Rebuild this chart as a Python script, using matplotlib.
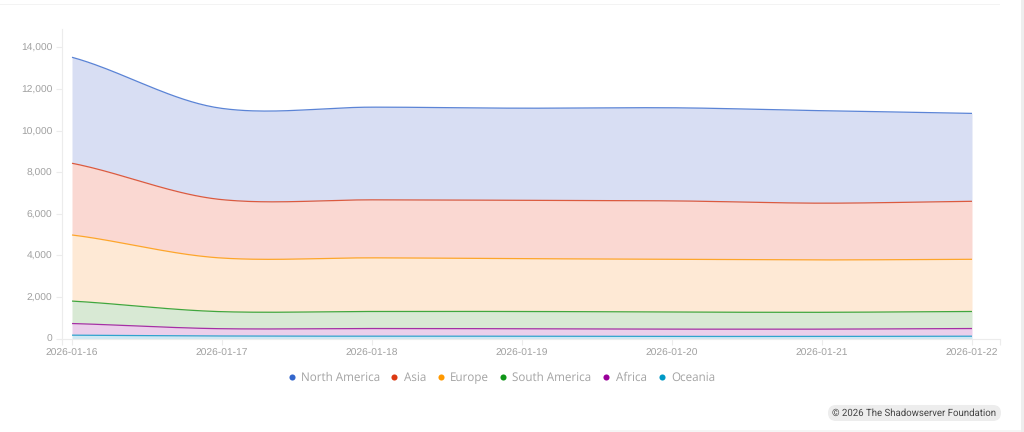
import numpy as np
import matplotlib
matplotlib.use("Agg")
import matplotlib.pyplot as plt
from matplotlib.lines import Line2D
from matplotlib.patches import FancyBboxPatch, Rectangle

plt.rcParams["text.hinting"] = "none"

dates = ["2026-01-16", "2026-01-17", "2026-01-18", "2026-01-19",
         "2026-01-20", "2026-01-21", "2026-01-22"]

# bottom of the stack first
oceania = [160, 120, 110, 110, 100, 100, 110]
africa = [560, 350, 370, 360, 350, 350, 370]
south_america = [1080, 820, 820, 830, 820, 810, 820]
europe = [3180, 2580, 2580, 2540, 2540, 2520, 2510]
asia = [3450, 2810, 2790, 2810, 2810, 2730, 2790]
north_america = [5100, 4390, 4460, 4430, 4480, 4450, 4230]

series_names = ["Oceania", "Africa", "South America", "Europe", "Asia", "North America"]
series_values = [oceania, africa, south_america, europe, asia, north_america]
series_colors = ["#0099c6", "#990099", "#109618", "#ff9900", "#dc3912", "#3366cc"]
series_fills = ["#d0e8f3", "#ebcfeb", "#d8e9d4", "#fee9d5", "#fad8d2", "#d8def3"]

yticks = [0, 2000, 4000, 6000, 8000, 10000, 12000, 14000]

# left edge of each legend entry in pixels, marker then text
legend_marker_px = [662, 606, 503, 441, 394, 292]
legend_text_px = [671, 616, 512, 450, 404, 301]


def smooth(x, y, n=40):
    # rounded look of the lines, tangents damped a bit so they don't overshoot
    x = np.asarray(x, dtype=float)
    y = np.asarray(y, dtype=float)
    m = np.gradient(y, x) * 0.8
    xs, ys = [], []
    for i in range(len(x) - 1):
        t = np.linspace(0, 1, n)
        h = x[i + 1] - x[i]
        a = 2 * t**3 - 3 * t**2 + 1
        b = t**3 - 2 * t**2 + t
        c = -2 * t**3 + 3 * t**2
        d = t**3 - t**2
        xs.append(x[i] + t * h)
        ys.append(a * y[i] + b * h * m[i] + c * y[i + 1] + d * h * m[i + 1])
    return np.concatenate(xs), np.concatenate(ys)


W, H = 1024, 432
fig = plt.figure(figsize=(W / 100, H / 100), dpi=100, facecolor="white")
ax = fig.add_axes([62 / W, (H - 338.5) / H, 938 / W, 309.5 / H])

x = np.arange(len(dates))
bottom = np.zeros(len(dates))
lower_curve = None
for name, vals, col, fill in zip(series_names, series_values, series_colors, series_fills):
    top = bottom + np.array(vals)
    xs, upper = smooth(x, top)
    base = np.zeros_like(upper) if lower_curve is None else lower_curve
    ax.fill_between(xs, base, upper, color=fill, linewidth=0)
    ax.plot(xs, upper, color=col, linewidth=0.9, alpha=0.8, solid_capstyle="butt")
    lower_curve = upper
    bottom = top

xlim = (-10 / 150, 6 + 28 / 150)
ax.set_xlim(xlim)
ax.set_ylim(0, 309.5 * 14000 / 291)

ax.set_xticks(x)
ax.set_xticks(xlim, minor=True)
ax.set_xticklabels(dates, family="Liberation Sans", fontsize=7.4, color="#a0a0a0")
ax.set_yticks(yticks)
ax.set_yticklabels([f"{v:,}" for v in yticks], family="Liberation Sans",
                   fontsize=7.4, color="#a0a0a0", va="center_baseline")
ax.tick_params(axis="both", which="both", length=4, width=0.8, color="#ececec", pad=3)
for side in ["top", "right"]:
    ax.spines[side].set_visible(False)
for side in ["left", "bottom"]:
    ax.spines[side].set_color("#ececec")
    ax.spines[side].set_linewidth(0.8)

# legend placed by hand, entries run tighter than fig.legend allows
for name, col, mx, tx in zip(series_names, series_colors, legend_marker_px, legend_text_px):
    fig.add_artist(Line2D([mx / W], [1 - 376.5 / H], linestyle="none", marker="o",
                          markersize=4.4, markeredgewidth=0, color=col,
                          transform=fig.transFigure))
    fig.text(tx / W, 1 - 381 / H, name, ha="left", va="baseline",
             family="Open Sans", fontsize=8.4, color="#a3a3a3")

# page bits around the chart
fig.add_artist(Rectangle((0, 1 - 5 / H), 1000 / W, 1.5 / H, transform=fig.transFigure,
                         color="#f3f3f3", linewidth=0))
fig.add_artist(Rectangle((1021 / W, 0), 3 / W, 1, transform=fig.transFigure,
                         color="#eeeeee", linewidth=0))
fig.add_artist(Rectangle((600 / W, 0), 421 / W, 2 / H, transform=fig.transFigure,
                         color="#f5f5f5", linewidth=0))

badge = FancyBboxPatch((828 + 8, H - 421 + 8), 173 - 16, 0.01,
                       boxstyle="round,pad=8,rounding_size=8",
                       transform=None, facecolor="#ededed", edgecolor="none")
fig.add_artist(badge)
fig.text(914.5 / W, 1 - 413 / H, "© 2026 The Shadowserver Foundation", ha="center", va="center",
         family="Roboto", fontsize=6.9, color="#444444")

fig.savefig("out.png", dpi=100)
